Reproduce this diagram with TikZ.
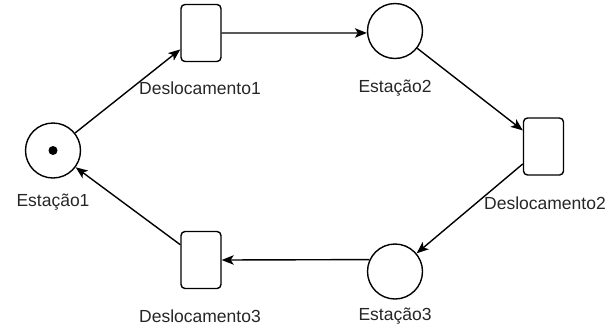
\documentclass[tikz,border=0pt]{standalone}
\usepackage{fontspec}
\setmainfont{Liberation Sans}
\usetikzlibrary{arrows.meta}
\begin{document}
\begin{tikzpicture}[x=1pt,y=-1pt,
  place/.style={draw,circle,line width=1.4pt,minimum size=55pt,inner sep=0pt},
  trans/.style={draw,rounded corners=4pt,line width=1.4pt,minimum width=40pt,minimum height=57pt,inner sep=0pt},
  lbl/.style={font=\fontsize{17.5}{19}\selectfont,inner sep=0pt,text=black!85},
  arc/.style={line width=1.4pt,-{Stealth[length=12pt,width=9.5pt,inset=3pt]}}]
\useasboundingbox (0,0) rectangle (615,325);
\node[place] (e1) at (53,150.5) {};
\fill (e1.center) circle (4.5pt);
\node[trans] (d1) at (201,33) {};
\node[place] (e2) at (395,31) {};
\node[trans] (d2) at (543.5,146.5) {};
\node[place] (e3) at (395,271.5) {};
\node[trans] (d3) at (201,260) {};
\node[lbl] (l1) at (53,202) {Estação1};
\node[lbl] (ld1) at (200,88) {Deslocamento1};
\node[lbl] (l2) at (395,88) {Estação2};
\node[lbl] (ld2) at (545,203) {Deslocamento2};
\node[lbl] (l3) at (395,316) {Estação3};
\node[lbl] (ld3) at (200,316) {Deslocamento3};
\draw[arc] (e1) -- (d1);
\draw[arc] (d1.east) -- (e2.184.2);
\draw[arc] (e2) -- (d2);
\draw[arc] (d2) -- (e3);
\draw[arc] (e3.155.3) -- (d3.east);
\draw[arc] (d3) -- (e1);
\end{tikzpicture}
\end{document}
